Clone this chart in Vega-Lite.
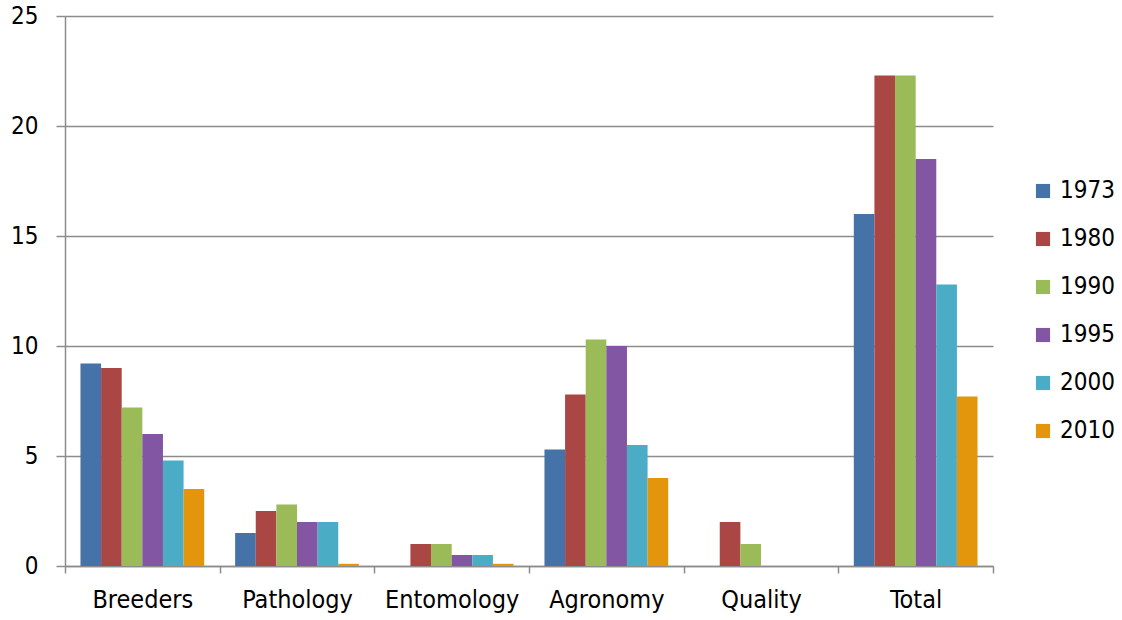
{
  "$schema": "https://vega.github.io/schema/vega-lite/v6.json",
  "autosize": "none",
  "width": 928,
  "height": 550,
  "padding": {"left": 65, "top": 16, "right": 129, "bottom": 54},
  "background": "white",
  "config": {
    "font": "DejaVu Sans Condensed, Liberation Sans",
    "view": {"stroke": null}
  },
  "data": {
    "values": [
      {"cat": "Breeders", "year": "1973", "v": 9.2},
      {"cat": "Breeders", "year": "1980", "v": 9.0},
      {"cat": "Breeders", "year": "1990", "v": 7.2},
      {"cat": "Breeders", "year": "1995", "v": 6.0},
      {"cat": "Breeders", "year": "2000", "v": 4.8},
      {"cat": "Breeders", "year": "2010", "v": 3.5},
      {"cat": "Pathology", "year": "1973", "v": 1.5},
      {"cat": "Pathology", "year": "1980", "v": 2.5},
      {"cat": "Pathology", "year": "1990", "v": 2.8},
      {"cat": "Pathology", "year": "1995", "v": 2.0},
      {"cat": "Pathology", "year": "2000", "v": 2.0},
      {"cat": "Pathology", "year": "2010", "v": 0.1},
      {"cat": "Entomology", "year": "1973", "v": 0},
      {"cat": "Entomology", "year": "1980", "v": 1.0},
      {"cat": "Entomology", "year": "1990", "v": 1.0},
      {"cat": "Entomology", "year": "1995", "v": 0.5},
      {"cat": "Entomology", "year": "2000", "v": 0.5},
      {"cat": "Entomology", "year": "2010", "v": 0.1},
      {"cat": "Agronomy", "year": "1973", "v": 5.3},
      {"cat": "Agronomy", "year": "1980", "v": 7.8},
      {"cat": "Agronomy", "year": "1990", "v": 10.3},
      {"cat": "Agronomy", "year": "1995", "v": 10.0},
      {"cat": "Agronomy", "year": "2000", "v": 5.5},
      {"cat": "Agronomy", "year": "2010", "v": 4.0},
      {"cat": "Quality", "year": "1973", "v": 0},
      {"cat": "Quality", "year": "1980", "v": 2.0},
      {"cat": "Quality", "year": "1990", "v": 1.0},
      {"cat": "Quality", "year": "1995", "v": 0},
      {"cat": "Quality", "year": "2000", "v": 0},
      {"cat": "Quality", "year": "2010", "v": 0},
      {"cat": "Total", "year": "1973", "v": 16.0},
      {"cat": "Total", "year": "1980", "v": 22.3},
      {"cat": "Total", "year": "1990", "v": 22.3},
      {"cat": "Total", "year": "1995", "v": 18.5},
      {"cat": "Total", "year": "2000", "v": 12.8},
      {"cat": "Total", "year": "2010", "v": 7.7}
    ]
  },
  "mark": {"type": "bar"},
  "encoding": {
    "x": {
      "field": "cat",
      "type": "nominal",
      "sort": null,
      "title": null,
      "scale": {"paddingInner": 0, "paddingOuter": 0},
      "axis": {
        "labelAngle": 0,
        "labelFontSize": 25,
        "labelColor": "#000000",
        "labelPadding": 14,
        "tickBand": "extent",
        "tickSize": 7,
        "tickColor": "#8c8c8c",
        "tickWidth": 1.5,
        "domainColor": "#8c8c8c",
        "domainWidth": 1.5,
        "grid": false
      }
    },
    "xOffset": {
      "field": "year",
      "type": "nominal",
      "scale": {"paddingInner": 0, "paddingOuter": 0.75}
    },
    "y": {
      "field": "v",
      "type": "quantitative",
      "title": null,
      "scale": {"domain": [0, 25], "nice": false},
      "axis": {
        "values": [0, 5, 10, 15, 20, 25],
        "labelFontSize": 24,
        "labelColor": "#000000",
        "labelPadding": 18,
        "tickSize": 9,
        "tickColor": "#8c8c8c",
        "tickWidth": 1.5,
        "domainColor": "#8c8c8c",
        "domainWidth": 1.5,
        "grid": true,
        "gridColor": "#8c8c8c",
        "gridWidth": 1.5
      }
    },
    "color": {
      "field": "year",
      "type": "nominal",
      "title": null,
      "scale": {
        "domain": ["1973", "1980", "1990", "1995", "2000", "2010"],
        "range": ["#4573A7", "#AA4643", "#9BBA58", "#8256A2", "#4BACC6", "#E3960B"]
      },
      "legend": {
        "orient": "none",
        "legendX": 966,
        "legendY": 163,
        "symbolType": "square",
        "symbolSize": 200,
        "symbolStrokeWidth": 0,
        "labelFontSize": 24,
        "labelColor": "#000000",
        "labelOffset": 5,
        "rowPadding": 24
      }
    }
  }
}
